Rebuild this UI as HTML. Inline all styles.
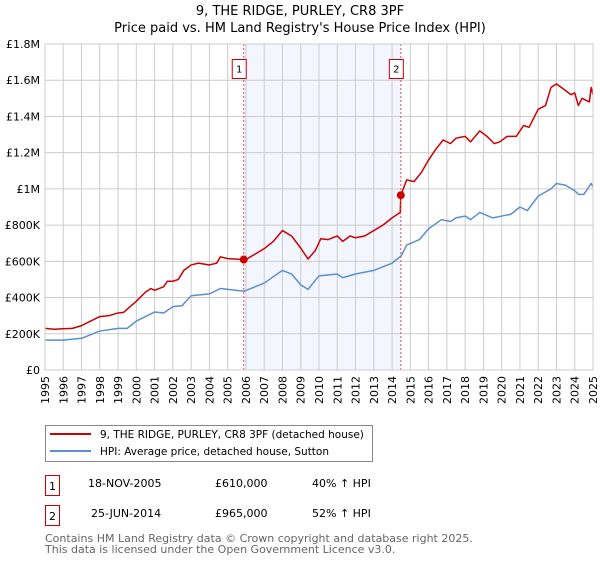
<!DOCTYPE html>
<html><head><meta charset="utf-8"><style>
body{margin:0;background:#fff;width:600px;height:560px;overflow:hidden;font-family:"DejaVu Sans","Liberation Sans",sans-serif}
svg text{font-family:"DejaVu Sans","Liberation Sans",sans-serif}
</style></head><body>
<svg id="chart" width="600" height="560" xmlns="http://www.w3.org/2000/svg">
<text x="300" y="15" text-anchor="middle" font-size="13">9, THE RIDGE, PURLEY, CR8 3PF</text>
<text x="300" y="32" text-anchor="middle" font-size="13">Price paid vs. HM Land Registry's House Price Index (HPI)</text>
<g id="grid"></g><g id="series"></g><g id="axes"></g>
<g>
<rect x="45.5" y="425.5" width="327" height="36" fill="#fff" stroke="#888"/>
<line x1="50" y1="434" x2="91" y2="434" stroke="#cc0000" stroke-width="2"/>
<text x="100" y="438" font-size="10.5">9, THE RIDGE, PURLEY, CR8 3PF (detached house)</text>
<line x1="50" y1="451" x2="91" y2="451" stroke="#5b8fd1" stroke-width="2"/>
<text x="100" y="455" font-size="10.5">HPI: Average price, detached house, Sutton</text>
</g>
<g font-size="11">
<rect x="45.5" y="475.5" width="14" height="20" fill="#fff" stroke="#cc0000"/>
<text x="52.5" y="490" text-anchor="middle">1</text>
<text x="88" y="487">18-NOV-2005</text><text x="215" y="487">£610,000</text><text x="312" y="487">40% ↑ HPI</text>
<rect x="45.5" y="505.5" width="14" height="20" fill="#fff" stroke="#cc0000"/>
<text x="52.5" y="520" text-anchor="middle">2</text>
<text x="91" y="517">25-JUN-2014</text><text x="215" y="517">£965,000</text><text x="312" y="517">52% ↑ HPI</text>
</g>
<text x="45" y="542" font-size="11" fill="#666">Contains HM Land Registry data © Crown copyright and database right 2025.</text>
<text x="45" y="553" font-size="11" fill="#666">This data is licensed under the Open Government Licence v3.0.</text>
</svg>
<script>
const redT=[1995,1995.5,1996,1996.5,1997,1997.5,1998,1998.5,1999,1999.3,2000,2000.5,2000.8,2001,2001.5,2001.7,2002,2002.3,2002.6,2003,2003.4,2004,2004.4,2004.6,2005,2005.88,2006,2006.5,2007,2007.5,2008,2008.5,2009,2009.4,2009.8,2010.1,2010.5,2011,2011.3,2011.7,2012,2012.5,2013,2013.5,2014,2014.45,2014.48,2014.8,2015.2,2015.6,2016,2016.4,2016.8,2017.2,2017.5,2018,2018.3,2018.8,2019.2,2019.6,2019.9,2020.3,2020.8,2021.2,2021.5,2022,2022.4,2022.7,2023,2023.4,2023.8,2024,2024.2,2024.4,2024.8,2024.9,2025];
const redV=[0.230,0.225,0.228,0.230,0.245,0.27,0.295,0.30,0.315,0.318,0.38,0.43,0.45,0.44,0.46,0.49,0.49,0.50,0.55,0.58,0.59,0.58,0.59,0.625,0.615,0.61,0.61,0.64,0.67,0.71,0.77,0.74,0.673,0.613,0.66,0.725,0.72,0.74,0.71,0.74,0.73,0.74,0.77,0.80,0.84,0.87,0.965,1.05,1.04,1.09,1.16,1.22,1.27,1.25,1.28,1.29,1.26,1.32,1.29,1.25,1.26,1.29,1.29,1.35,1.34,1.44,1.46,1.56,1.58,1.55,1.52,1.53,1.46,1.50,1.48,1.56,1.52];
const hpiT=[1995,1996,1997,1998,1999,1999.5,2000,2001,2001.5,2002,2002.5,2003,2004,2004.6,2005.9,2007,2008,2008.5,2009,2009.4,2010,2011,2011.3,2012,2013,2014,2014.5,2014.8,2015.5,2016,2016.7,2017.2,2017.5,2018,2018.3,2018.8,2019.5,2020,2020.5,2021,2021.4,2022,2022.7,2023,2023.5,2024,2024.2,2024.5,2024.9,2025];
const hpiV=[0.165,0.165,0.175,0.215,0.23,0.23,0.27,0.32,0.315,0.35,0.355,0.41,0.42,0.45,0.435,0.48,0.55,0.53,0.47,0.445,0.52,0.53,0.51,0.53,0.55,0.59,0.63,0.69,0.72,0.78,0.83,0.82,0.84,0.85,0.83,0.87,0.84,0.85,0.86,0.90,0.88,0.96,1.0,1.03,1.02,0.99,0.97,0.97,1.03,1.01];
const saleT=[2005.88,2014.48];
const saleV=[0.61,0.965];
const yTicks=[0,0.2,0.4,0.6,0.8,1.0,1.2,1.4,1.6,1.8];
const yLabels=["£0","£200K","£400K","£600K","£800K","£1M","£1.2M","£1.4M","£1.6M","£1.8M"];
const NS="http://www.w3.org/2000/svg";
const X0=45,X1=593,Y0=370,Y1=44;
const xs=t=>X0+(t-1995)*(X1-X0)/30;
const ys=v=>Y0-v*(Y0-Y1)/1.8;
function mk(tag,attrs,parent){const e=document.createElementNS(NS,tag);for(const k in attrs)e.setAttribute(k,attrs[k]);parent.appendChild(e);return e;}
const grid=document.getElementById('grid'),axes=document.getElementById('axes'),ser=document.getElementById('series');
let sh=mk('rect',{x:xs(saleT[0]),y:Y1,width:xs(saleT[1])-xs(saleT[0]),height:Y0-Y1,fill:'#f0f4ff',opacity:0.8},grid);


for(let yr=1995;yr<=2025;yr++){
 const x=xs(yr);
 let l=mk('line',{x1:x,x2:x,y1:Y1,y2:Y0,stroke:'#ccc'},grid);
 
 
 let t=mk('text',{x:0,y:0,'font-size':11,'text-anchor':'end',transform:`translate(${x+4},${Y0+6}) rotate(-90)`},axes);
 t.textContent=yr;
 
 
}
yTicks.forEach((v,i)=>{
 const y=ys(v);
 let l=mk('line',{x1:X0,x2:X1,y1:y,y2:y,stroke:'#ccc'},grid);
 
 
 let t=mk('text',{x:40,y:y+4,'font-size':11,'text-anchor':'end'},axes);
 t.textContent=yLabels[i];
 
 
});
function line(T,V,col,name){
 let p=mk('polyline',{points:T.map((t,i)=>xs(t)+','+ys(V[i])).join(' '),fill:'none',stroke:col,'stroke-width':1.5,'stroke-linejoin':'round'},ser);
 
 
}
line(hpiT,hpiV,'#5b8fd1','hpi-line');
line(redT,redV,'#cc0000','property-price-line');
saleT.forEach((t,i)=>{
 const x=xs(t);
 let l=mk('line',{x1:x,x2:x,y1:Y1,y2:Y0,stroke:'#e05050','stroke-dasharray':'2,2'},ser);
 
 
 let c=mk('circle',{cx:x,cy:ys(saleV[i]),r:4,fill:'#cc0000'},ser);
 
 
 let r=mk('rect',{x:x-11.5,y:59.5,width:14,height:19,fill:'#fff',stroke:'#cc0000'},ser);
 
 
 let tx=mk('text',{x:x-4.5,y:72.5,'font-size':10,'text-anchor':'middle'},ser);
 tx.textContent=String(i+1);
 
 
});
let fr=mk('rect',{x:X0,y:Y1,width:X1-X0,height:Y0-Y1,fill:'none',stroke:'#ccc'},axes);


</script>
</body></html>
